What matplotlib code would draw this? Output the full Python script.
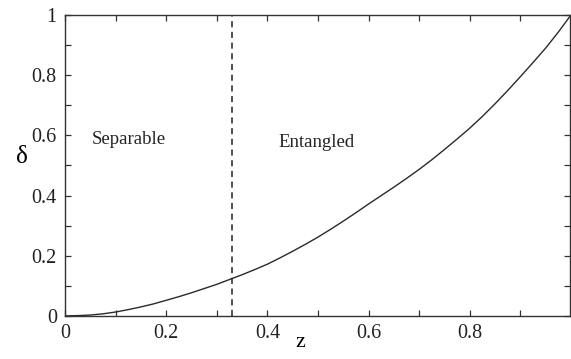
import matplotlib
matplotlib.use('Agg')
import matplotlib.pyplot as plt
from matplotlib.ticker import MultipleLocator

# values
z = [0.0, 0.025, 0.05, 0.075, 0.1, 0.125, 0.15, 0.175, 0.2, 0.225, 0.25, 0.275,
     0.3, 0.325, 0.35, 0.375, 0.4, 0.425, 0.45, 0.475, 0.5, 0.525, 0.55, 0.575,
     0.6, 0.625, 0.65, 0.675, 0.7, 0.725, 0.75, 0.775, 0.8, 0.825, 0.85, 0.875,
     0.9, 0.925, 0.95, 0.975, 1.0]
delta = [0.0, 0.001, 0.003, 0.007, 0.013, 0.021, 0.030, 0.040, 0.052, 0.064,
         0.077, 0.091, 0.105, 0.121, 0.137, 0.154, 0.172, 0.193, 0.215, 0.238,
         0.262, 0.288, 0.315, 0.343, 0.372, 0.400, 0.428, 0.457, 0.487, 0.519,
         0.553, 0.588, 0.624, 0.663, 0.705, 0.749, 0.795, 0.842, 0.890, 0.943, 1.0]
z_boundary = 0.33
region_labels = ['Separable', 'Entangled']
region_pos = [(0.125, 0.585), (0.497, 0.575)]

plt.rcParams['font.family'] = ['Liberation Serif', 'DejaVu Serif']

fig = plt.figure(figsize=(5.71, 3.59), dpi=100)
ax = fig.add_axes([0.114, 0.12, 0.884, 0.838])

ax.plot(z, delta, color='#2a2a2a', lw=1.0)
ax.axvline(z_boundary, color='#222222', lw=1.1, ls=(0, (4, 3)))

for lab, (x, y) in zip(region_labels, region_pos):
    ax.text(x, y, lab, ha='center', va='center', fontsize=13.5, color='#222222')

fmt = lambda v, p: '0' if abs(v) < 1e-9 else ('1' if abs(v - 1) < 1e-9 else f'{v:.1f}')

ax.set_xlim(0, 0.998)
ax.set_ylim(0, 1)
ax.xaxis.set_major_locator(MultipleLocator(0.2))
ax.xaxis.set_minor_locator(MultipleLocator(0.1))
ax.yaxis.set_major_locator(MultipleLocator(0.2))
ax.yaxis.set_minor_locator(MultipleLocator(0.1))
ax.xaxis.set_major_formatter(fmt)
ax.yaxis.set_major_formatter(fmt)
ax.tick_params(which='both', direction='in', top=True, right=True, length=4,
               width=0.9, labelsize=14.5, color='#333333', labelcolor='#222222')
ax.tick_params(axis='x', pad=6)
ax.tick_params(axis='y', pad=6)
ax.set_xticks([0, 0.2, 0.4, 0.6, 0.8])

for s in ax.spines.values():
    s.set_linewidth(1.0)
    s.set_color('#333333')

ax.set_xlabel('z', fontsize=16)
ax.xaxis.set_label_coords(0.466, -0.104)
ax.xaxis.label.set_va('baseline')
ax.set_ylabel('δ', fontsize=18, rotation=0, va='center', ha='center')
ax.yaxis.set_label_coords(-0.085, 0.528)

plt.savefig('out.png', dpi=100)
